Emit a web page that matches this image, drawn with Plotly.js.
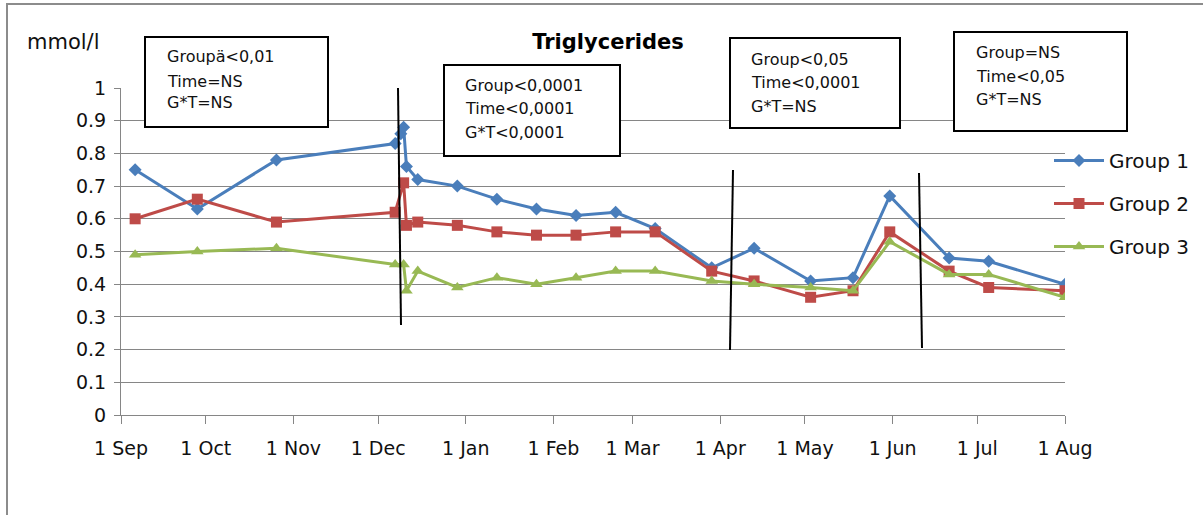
<!DOCTYPE html>
<html>
<head>
<meta charset="utf-8">
<script src="https://cdn.plot.ly/plotly-3.0.1.min.js"></script>
<style>html,body{margin:0;padding:0;background:#fff;}#chart{width:1203px;height:515px;}</style>
</head>
<body>
<div id="chart"></div>
<script>
// ---- data ----
const seriesNames = ["Group 1", "Group 2", "Group 3"];

const datesG1 = ["2010-09-06","2010-09-28","2010-10-26","2010-12-07","2010-12-09","2010-12-10","2010-12-11","2010-12-15","2010-12-29","2011-01-12","2011-01-26","2011-02-09","2011-02-23","2011-03-09","2011-03-29","2011-04-13","2011-05-03","2011-05-18","2011-05-31","2011-06-21","2011-07-05","2011-08-01"];
const valuesG1 = [0.75,0.63,0.78,0.83,0.86,0.88,0.76,0.72,0.70,0.66,0.63,0.61,0.62,0.57,0.45,0.51,0.41,0.42,0.67,0.48,0.47,0.40];

const datesG2 = ["2010-09-06","2010-09-28","2010-10-26","2010-12-07","2010-12-10","2010-12-11","2010-12-15","2010-12-29","2011-01-12","2011-01-26","2011-02-09","2011-02-23","2011-03-09","2011-03-29","2011-04-13","2011-05-03","2011-05-18","2011-05-31","2011-06-21","2011-07-05","2011-08-01"];
const valuesG2 = [0.60,0.66,0.59,0.62,0.71,0.58,0.59,0.58,0.56,0.55,0.55,0.56,0.56,0.44,0.41,0.36,0.38,0.56,0.44,0.39,0.38];

const datesG3 = ["2010-09-06","2010-09-28","2010-10-26","2010-12-07","2010-12-10","2010-12-11","2010-12-15","2010-12-29","2011-01-12","2011-01-26","2011-02-09","2011-02-23","2011-03-09","2011-03-29","2011-04-13","2011-05-03","2011-05-18","2011-05-31","2011-06-21","2011-07-05","2011-08-01"];
const valuesG3 = [0.49,0.50,0.51,0.46,0.46,0.38,0.44,0.39,0.42,0.40,0.42,0.44,0.44,0.41,0.40,0.39,0.38,0.53,0.43,0.43,0.36];

const boxTexts = [
  ["Groupä<0,01", "Time=NS", "G*T=NS"],
  ["Group<0,0001", "Time<0,0001", "G*T<0,0001"],
  ["Group<0,05", "Time<0,0001", "G*T=NS"],
  ["Group=NS", "Time<0,05", "G*T=NS"]
];

// ---- styling / layout helpers ----
const FONT = "DejaVu Sans, Liberation Sans, sans-serif";
const colors = ["#4A7EBB", "#BE4B48", "#98B954"];
const symbols = ["diamond", "square", "triangle-up"];
const msizes = [10, 11, 11];

const L = 121, R = 1065, T = 88, B = 415;
const px = v => (v - L) / (R - L);
const py = v => (B - v) / (B - T);

const allDates = [datesG1, datesG2, datesG3];
const allVals = [valuesG1, valuesG2, valuesG3];

const traces = seriesNames.map((n, i) => ({
  type: "scatter", mode: "lines+markers", name: n,
  x: allDates[i], y: allVals[i],
  legendgroup: "g" + i,
  line: {color: colors[i], width: 3},
  marker: {color: colors[i], symbol: symbols[i], size: msizes[i]}
}));

const boxes = [
  [145, 37, 328, 127],
  [444, 65, 620, 156],
  [730, 38, 900, 128],
  [954, 32, 1127, 131]
];
const textPos = [
  [165, [57, 81, 103]],
  [463, [86, 109, 132]],
  [749, [59, 82, 106]],
  [974, [53, 76, 99]]
];
const vlines = [
  [398, 88, 401, 325],
  [733, 170, 730, 350],
  [919, 173, 922, 348]
];

const shapes = [];
// outer chart border (left + top visible)
shapes.push({type: "rect", xref: "paper", yref: "paper", x0: px(7), y0: py(540), x1: px(1240), y1: py(4),
  line: {color: "#8c8c8c", width: 2}, fillcolor: "rgba(0,0,0,0)", layer: "below"});
boxes.forEach(b => shapes.push({type: "rect", xref: "paper", yref: "paper",
  x0: px(b[0]), y0: py(b[3]), x1: px(b[2]), y1: py(b[1]),
  line: {color: "#000", width: 2}, fillcolor: "#fff", layer: "above"}));
vlines.forEach(v => shapes.push({type: "line", xref: "paper", yref: "paper",
  x0: px(v[0]), y0: py(v[1]), x1: px(v[2]), y1: py(v[3]),
  line: {color: "#000", width: 2}, layer: "above"}));

const annotations = [];
boxTexts.forEach((lines, bi) => {
  lines.forEach((t, li) => annotations.push({
    text: t, xref: "paper", yref: "paper", x: px(textPos[bi][0]), y: py(textPos[bi][1][li]),
    xanchor: "left", yanchor: "middle", showarrow: false, align: "left",
    font: {family: FONT, size: 16, color: "#111"}
  }));
});
annotations.push({text: "mmol/l", xref: "paper", yref: "paper", x: px(63), y: py(42),
  xanchor: "center", yanchor: "middle", showarrow: false,
  font: {family: FONT, size: 21, color: "#111"}});

const layout = {
  width: 1203, height: 515,
  margin: {l: L, r: 1203 - R, t: T, b: 515 - B, pad: 0, autoexpand: false},
  paper_bgcolor: "#fff", plot_bgcolor: "#fff",
  title: {text: "<b>Triglycerides</b>", xref: "paper", x: px(608), xanchor: "center",
    yref: "container", y: 1 - 42 / 515, yanchor: "middle",
    font: {family: FONT, size: 21, color: "#000"}},
  xaxis: {type: "date", range: ["2010-09-01", "2011-08-01"], tick0: "2010-09-01", dtick: "M1",
    tickformat: "%-d %b", showgrid: false, zeroline: false, automargin: false,
    showline: true, linecolor: "#868686", linewidth: 1,
    ticks: "outside", ticklen: 8, tickcolor: "#868686", ticklabelstandoff: 8,
    tickfont: {family: FONT, size: 19, color: "#111"}},
  yaxis: {range: [0, 1], dtick: 0.1, showgrid: true, gridcolor: "#868686", gridwidth: 1,
    zeroline: false, showline: true, linecolor: "#868686", linewidth: 1, automargin: false,
    ticks: "outside", ticklen: 6, tickcolor: "#868686", ticklabelstandoff: 4,
    tickfont: {family: FONT, size: 19, color: "#111"}},
  legend: {x: px(1049), xanchor: "left", y: py(141), yanchor: "top",
    font: {family: FONT, size: 20, color: "#111"}, bgcolor: "rgba(0,0,0,0)",
    tracegroupgap: 14, itemwidth: 50},
  showlegend: true,
  shapes: shapes,
  annotations: annotations
};

Plotly.newPlot("chart", traces, layout, {displayModeBar: false, staticPlot: true});
</script>
</body>
</html>
